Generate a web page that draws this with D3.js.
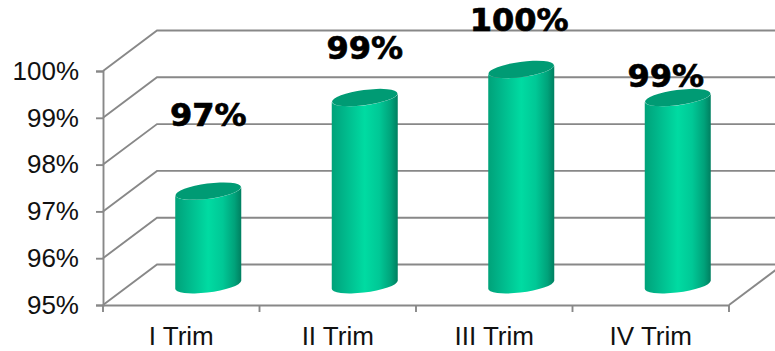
<!DOCTYPE html>
<html><head><meta charset="utf-8">
<script src="https://cdn.jsdelivr.net/npm/d3@7"></script>
<style>html,body{margin:0;padding:0;background:#fff;overflow:hidden}svg{display:block}</style>
</head><body><svg id="c" width="775" height="351"></svg>
<script>
const categories = ["I Trim","II Trim","III Trim","IV Trim"];
const values = [97, 99, 99.6, 99];
const valueLabels = ["97%","99%","100%","99%"];
const yTicks = [95,96,97,98,99,100];

const W=775,H=351;
const svg=d3.select("#c");
const x=d3.scaleBand().domain(categories).range([103,729]).padding(0);
const y=d3.scaleLinear().domain([95,100]).range([305,71]);
const depthX=54, depthY=-40.5;
const grey="#888888";
const lineW=1.9;
const defs=svg.append("defs");
const g=defs.append("linearGradient").attr("id","cyl").attr("x1",0).attr("x2",1).attr("y1",0).attr("y2",0);
[[0,"#00a279"],[0.15,"#00b287"],[0.5,"#00dba2"],[0.72,"#00c896"],[0.9,"#00a27a"],[1,"#007f60"]]
  .forEach(s=>g.append("stop").attr("offset",s[0]).attr("stop-color",s[1]));

// depth + back-wall gridlines
const grid=svg.append("g").attr("fill","none").attr("stroke",grey);
yTicks.forEach(t=>{
  grid.append("path").attr("stroke-width",lineW)
    .attr("d",d3.line()([[x.range()[0],y(t)],[x.range()[0]+depthX,y(t)+depthY],[W,y(t)+depthY]]));
});
// right floor edge
grid.append("path").attr("stroke-width",lineW)
  .attr("d",d3.line()([[x.range()[1],y(95)],[x.range()[1]+depthX,y(95)+depthY]]));

// axes
const yAxis=d3.axisLeft(y).tickValues(yTicks).tickFormat(d=>d+"%").tickSize(7).tickPadding(17);
const xAxis=d3.axisBottom(x).tickSize(0).tickPadding(18);
const ya=svg.append("g").attr("transform",`translate(${x.range()[0]},0)`).call(yAxis);
const xa=svg.append("g").attr("transform",`translate(0,${y(95)})`).call(xAxis);
[ya,xa].forEach(a=>{
  a.selectAll("path.domain").attr("stroke",grey).attr("stroke-width",lineW);
  a.selectAll("line").attr("stroke",grey).attr("stroke-width",lineW);
  a.selectAll("text").attr("fill","#111").style("font-family","'Liberation Sans',Arial,sans-serif").style("font-size","26px");
});
xa.selectAll(".tick text").attr("y",22).attr("dy","0.71em");
const xEdges=[...categories.map(c=>x(c)),x.range()[1]];
xa.selectAll("line.edge").data(xEdges).join("line").attr("class","edge")
  .attr("stroke",grey).attr("stroke-width",lineW)
  .attr("x1",d=>d).attr("x2",d=>d).attr("y1",0).attr("y2",7);

// cylinders
const rx=33, ry=7.6, rot=-7.5;
const tilt=Math.tan(rot*Math.PI/180)*rx*0.9;
const bars=svg.append("g");
categories.forEach((c,i)=>{
  const cx=x(c)+x.bandwidth()/2+depthX/2;
  const top=y(values[i])+depthY/2, bot=y(95)+depthY/2;
  const lx=cx-rx, rxx=cx+rx;
  bars.append("path").attr("fill","url(#cyl)")
   .attr("d",`M${lx},${top-tilt}L${lx},${bot-tilt}A${rx},${ry} ${rot} 0 0 ${rxx},${bot+tilt}L${rxx},${top+tilt}A${rx},${ry} ${rot} 0 1 ${lx},${top-tilt}Z`);
  bars.append("ellipse").attr("cx",cx).attr("cy",top).attr("rx",rx).attr("ry",ry)
   .attr("transform",`rotate(${rot} ${cx} ${top})`).attr("fill","#009b74");
});

// hand-placed data labels (layout offsets from each bar's top)
const labelShiftX=[0,0,-2,-12], labelShiftY=[-65,-39,-38,-11];
svg.append("g").selectAll("text").data(valueLabels).join("text")
  .attr("x",(d,i)=>x(categories[i])+x.bandwidth()/2+depthX/2+labelShiftX[i])
  .attr("y",(d,i)=>y(values[i])+depthY/2+labelShiftY[i])
  .attr("text-anchor","middle").attr("fill","#000").attr("stroke","#000").attr("stroke-width",0.7)
  .style("font-family","'DejaVu Sans',Verdana,sans-serif").style("font-weight","bold").style("font-size","32px")
  .text(d=>d);
</script></body></html>
